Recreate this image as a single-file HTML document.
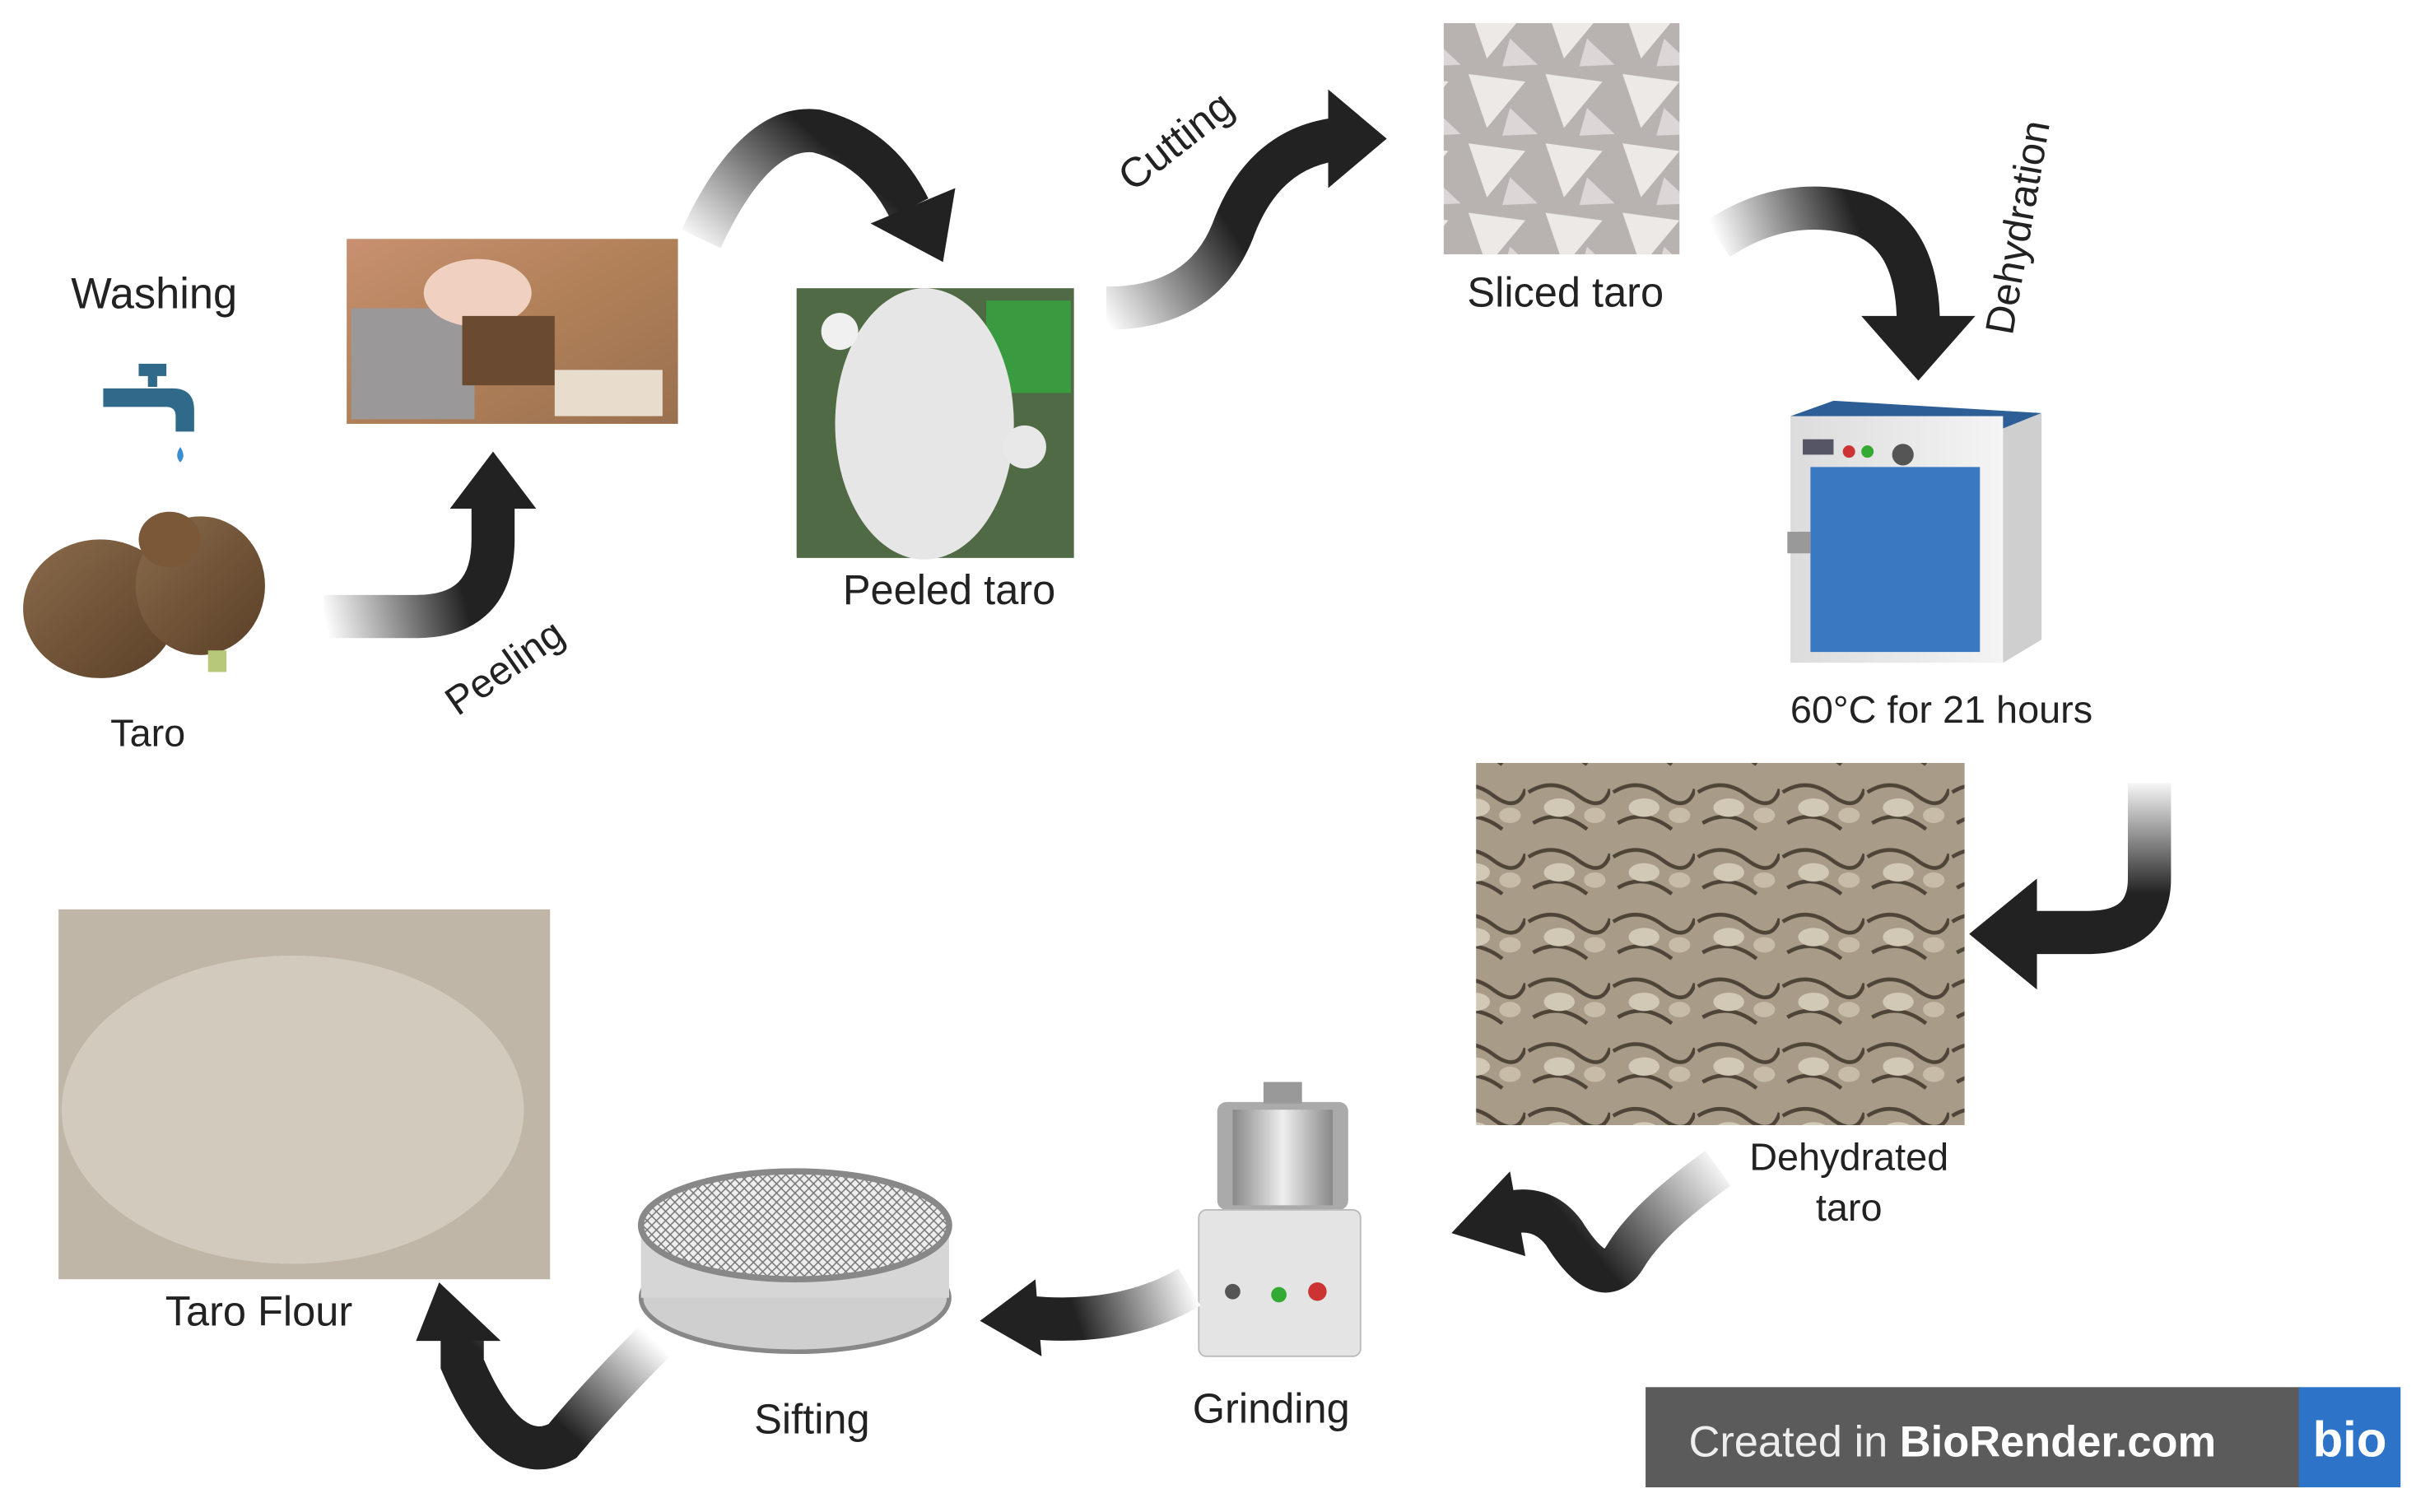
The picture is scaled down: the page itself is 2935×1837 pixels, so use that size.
<!DOCTYPE html>
<html><head><meta charset="utf-8"><style>
html,body{margin:0;padding:0;background:#fff;}
svg{display:block;}
text{font-family:"Liberation Sans",sans-serif;fill:#222;}
</style></head><body>
<svg width="2935" height="1837" viewBox="0 0 1568 981" preserveAspectRatio="none" xmlns="http://www.w3.org/2000/svg">
<defs>
<linearGradient id="g1" gradientUnits="userSpaceOnUse" x1="210" y1="400" x2="300" y2="380"><stop offset="0" stop-color="#fff"/><stop offset="1" stop-color="#222"/></linearGradient>
<linearGradient id="g2" gradientUnits="userSpaceOnUse" x1="450" y1="160" x2="520" y2="80"><stop offset="0" stop-color="#fff"/><stop offset="1" stop-color="#222"/></linearGradient>
<linearGradient id="g3" gradientUnits="userSpaceOnUse" x1="715" y1="205" x2="800" y2="150"><stop offset="0" stop-color="#fff"/><stop offset="1" stop-color="#222"/></linearGradient>
<linearGradient id="g4" gradientUnits="userSpaceOnUse" x1="1115" y1="160" x2="1200" y2="130"><stop offset="0" stop-color="#fff"/><stop offset="1" stop-color="#222"/></linearGradient>
<linearGradient id="g5" gradientUnits="userSpaceOnUse" x1="1395" y1="505" x2="1395" y2="580"><stop offset="0" stop-color="#fff"/><stop offset="1" stop-color="#222"/></linearGradient>
<linearGradient id="g6" gradientUnits="userSpaceOnUse" x1="1120" y1="755" x2="1040" y2="820"><stop offset="0" stop-color="#fff"/><stop offset="1" stop-color="#222"/></linearGradient>
<linearGradient id="g7" gradientUnits="userSpaceOnUse" x1="775" y1="835" x2="700" y2="860"><stop offset="0" stop-color="#fff"/><stop offset="1" stop-color="#222"/></linearGradient>
<linearGradient id="g8" gradientUnits="userSpaceOnUse" x1="425" y1="870" x2="370" y2="930"><stop offset="0" stop-color="#fff"/><stop offset="1" stop-color="#222"/></linearGradient>
<linearGradient id="taro" x1="0" y1="0" x2="1" y2="1"><stop offset="0" stop-color="#8a6a4a"/><stop offset="1" stop-color="#5a4028"/></linearGradient>
<linearGradient id="peel" x1="0" y1="0" x2="1" y2="1"><stop offset="0" stop-color="#c89070"/><stop offset=".5" stop-color="#b08058"/><stop offset="1" stop-color="#9a7050"/></linearGradient>
<linearGradient id="oven" x1="0" y1="0" x2="1" y2="0"><stop offset="0" stop-color="#dcdcdc"/><stop offset="1" stop-color="#f4f4f4"/></linearGradient>
<linearGradient id="bowl" x1="0" y1="0" x2="1" y2="0"><stop offset="0" stop-color="#888"/><stop offset=".5" stop-color="#eee"/><stop offset="1" stop-color="#888"/></linearGradient>
<pattern id="dry" width="55" height="42" patternUnits="userSpaceOnUse"><rect width="55" height="42" fill="#a89c88"/><path d="M2 10 Q18 0 34 12 T55 8 M5 30 Q22 20 40 34" stroke="#4e4438" stroke-width="2.5" fill="none"/><ellipse cx="22" cy="20" rx="10" ry="6" fill="#d2c8b6"/><ellipse cx="45" cy="25" rx="7" ry="5" fill="#c6bca8"/></pattern>
<pattern id="slice" width="50" height="45" patternUnits="userSpaceOnUse"><rect width="50" height="45" fill="#b8b2b0"/><polygon points="3,3 40,8 15,38" fill="#ece9e6"/><polygon points="30,25 48,42 25,43" fill="#dcd6d6"/></pattern>
<pattern id="mesh" width="6" height="6" patternUnits="userSpaceOnUse"><rect width="6" height="6" fill="#eee"/><path d="M0 0L6 6M6 0L0 6" stroke="#777" stroke-width=".8"/></pattern>
</defs>

<text x="100" y="200" font-size="28" text-anchor="middle">Washing</text>
<g fill="#2f6a8a">
<rect x="90" y="236" width="18" height="8"/><rect x="96" y="241" width="6" height="10"/>
<path d="M67 252 h45 q14 0 14 14 v14 h-12 v-10 q0-6-6-6 h-41z"/>
<path d="M117 290 q-4 6 0 10 q4-4 0-10z" fill="#3a8ed0"/>
</g>
<ellipse cx="65" cy="395" rx="50" ry="45" fill="url(#taro)"/>
<ellipse cx="130" cy="380" rx="42" ry="45" fill="url(#taro)"/>
<ellipse cx="110" cy="350" rx="20" ry="18" fill="#7a5838"/>
<rect x="135" y="422" width="12" height="14" fill="#b8c87a"/>
<text x="96" y="484" font-size="25" text-anchor="middle">Taro</text>

<rect x="225" y="155" width="215" height="120" fill="url(#peel)"/>
<rect x="228" y="200" width="80" height="72" fill="#9a9898"/>
<ellipse cx="310" cy="190" rx="35" ry="22" fill="#f0d0c0"/>
<rect x="300" y="205" width="60" height="45" fill="#6a4a30"/>
<rect x="360" y="240" width="70" height="30" fill="#e8dccd"/>

<rect x="517" y="187" width="180" height="175" fill="#4f6a44"/>
<rect x="640" y="195" width="55" height="60" fill="#3a9a40"/>
<ellipse cx="600" cy="275" rx="58" ry="88" fill="#e6e6e6"/>
<circle cx="665" cy="290" r="14" fill="#e8e8e8"/><circle cx="545" cy="215" r="12" fill="#f0f0f0"/>
<text x="616" y="392" font-size="27" text-anchor="middle">Peeled taro</text>

<rect x="937" y="15" width="153" height="150" fill="url(#slice)"/>
<text x="1016" y="199" font-size="27" text-anchor="middle">Sliced taro</text>

<polygon points="1162,270 1190,260 1325,268 1300,278" fill="#2d5e95"/>
<rect x="1162" y="270" width="138" height="160" fill="url(#oven)"/>
<polygon points="1300,278 1325,268 1325,415 1300,430" fill="#cfcfcf"/>
<rect x="1175" y="303" width="110" height="120" fill="#3a78c2"/>
<rect x="1170" y="285" width="20" height="10" fill="#556"/>
<circle cx="1200" cy="293" r="4" fill="#c33"/><circle cx="1212" cy="293" r="4" fill="#3a3"/><circle cx="1235" cy="295" r="7" fill="#555"/>
<rect x="1160" y="345" width="15" height="14" fill="#999"/>
<text x="1260" y="469" font-size="25" text-anchor="middle">60°C for 21 hours</text>

<rect x="958" y="495" width="317" height="235" fill="url(#dry)"/>
<text x="1200" y="759" font-size="25" text-anchor="middle">Dehydrated</text>
<text x="1200" y="792" font-size="25" text-anchor="middle">taro</text>

<rect x="790" y="715" width="85" height="70" rx="6" fill="#aaa"/>
<rect x="800" y="720" width="65" height="62" fill="url(#bowl)"/>
<rect x="820" y="702" width="25" height="14" fill="#999"/>
<rect x="778" y="785" width="105" height="95" rx="5" fill="#e4e4e4" stroke="#bbb"/>
<circle cx="800" cy="838" r="5" fill="#555"/><circle cx="830" cy="840" r="5" fill="#3a3"/><circle cx="855" cy="838" r="6" fill="#c33"/>
<text x="825" y="923" font-size="27" text-anchor="middle">Grinding</text>

<ellipse cx="516" cy="842" rx="100" ry="35" fill="#cfcfcf" stroke="#888" stroke-width="3"/>
<rect x="416" y="795" width="200" height="47" fill="#d6d6d6"/>
<ellipse cx="516" cy="795" rx="100" ry="35" fill="url(#mesh)" stroke="#888" stroke-width="4"/>
<text x="527" y="930" font-size="27" text-anchor="middle">Sifting</text>

<rect x="38" y="590" width="319" height="240" fill="#bfb6a7"/>
<ellipse cx="190" cy="720" rx="150" ry="100" fill="#d2cbbd"/>
<text x="168" y="860" font-size="27" text-anchor="middle">Taro Flour</text>

<g fill="none" stroke-width="28">
<path d="M210 400 H270 Q320 400 320 350 V325" stroke="url(#g1)"/>
<path d="M455 155 Q490 80 530 85 Q570 95 590 135" stroke="url(#g2)"/>
<path d="M718 200 Q780 200 800 150 Q820 95 870 90" stroke="url(#g3)"/>
<path d="M1115 155 Q1160 125 1210 140 Q1245 155 1245 210" stroke="url(#g4)"/>
<path d="M1395 508 V570 Q1395 605 1355 605 H1315" stroke="url(#g5)"/>
<path d="M1115 758 Q1070 790 1055 815 Q1040 840 1015 800 Q1000 780 975 788" stroke="url(#g6)"/>
<path d="M772 835 Q730 860 670 855" stroke="url(#g7)"/>
<path d="M425 870 Q390 905 365 935 Q330 955 300 885 V865" stroke="url(#g8)"/>
</g>
<g fill="#222">
<polygon points="292,330 348,330 320,293"/>
<polygon points="565,145 620,122 612,170"/>
<polygon points="862,58 900,90 862,122"/>
<polygon points="1208,205 1282,205 1245,247"/>
<polygon points="1322,570 1278,606 1322,642"/>
<polygon points="980,760 942,800 990,815"/>
<polygon points="672,830 636,857 676,880"/>
<polygon points="270,870 325,870 285,832"/>
</g>
<text font-size="26" transform="translate(297,465) rotate(-35)">Peeling</text>
<text font-size="27" transform="translate(735,125) rotate(-38)">Cutting</text>
<text font-size="26" transform="translate(1306,218) rotate(-80)">Dehydration</text>

<rect x="1068" y="900" width="425" height="65" fill="#5b5b5b"/>
<rect x="1492" y="900" width="66" height="65" fill="#2d74c8"/>
<text x="1096" y="945" font-size="28" style="fill:#eee">Created in <tspan font-weight="bold" style="fill:#fff">BioRender.com</tspan></text>
<text x="1525" y="945" font-size="32" font-weight="bold" text-anchor="middle" style="fill:#fff">bio</text>
</svg>
</body></html>
